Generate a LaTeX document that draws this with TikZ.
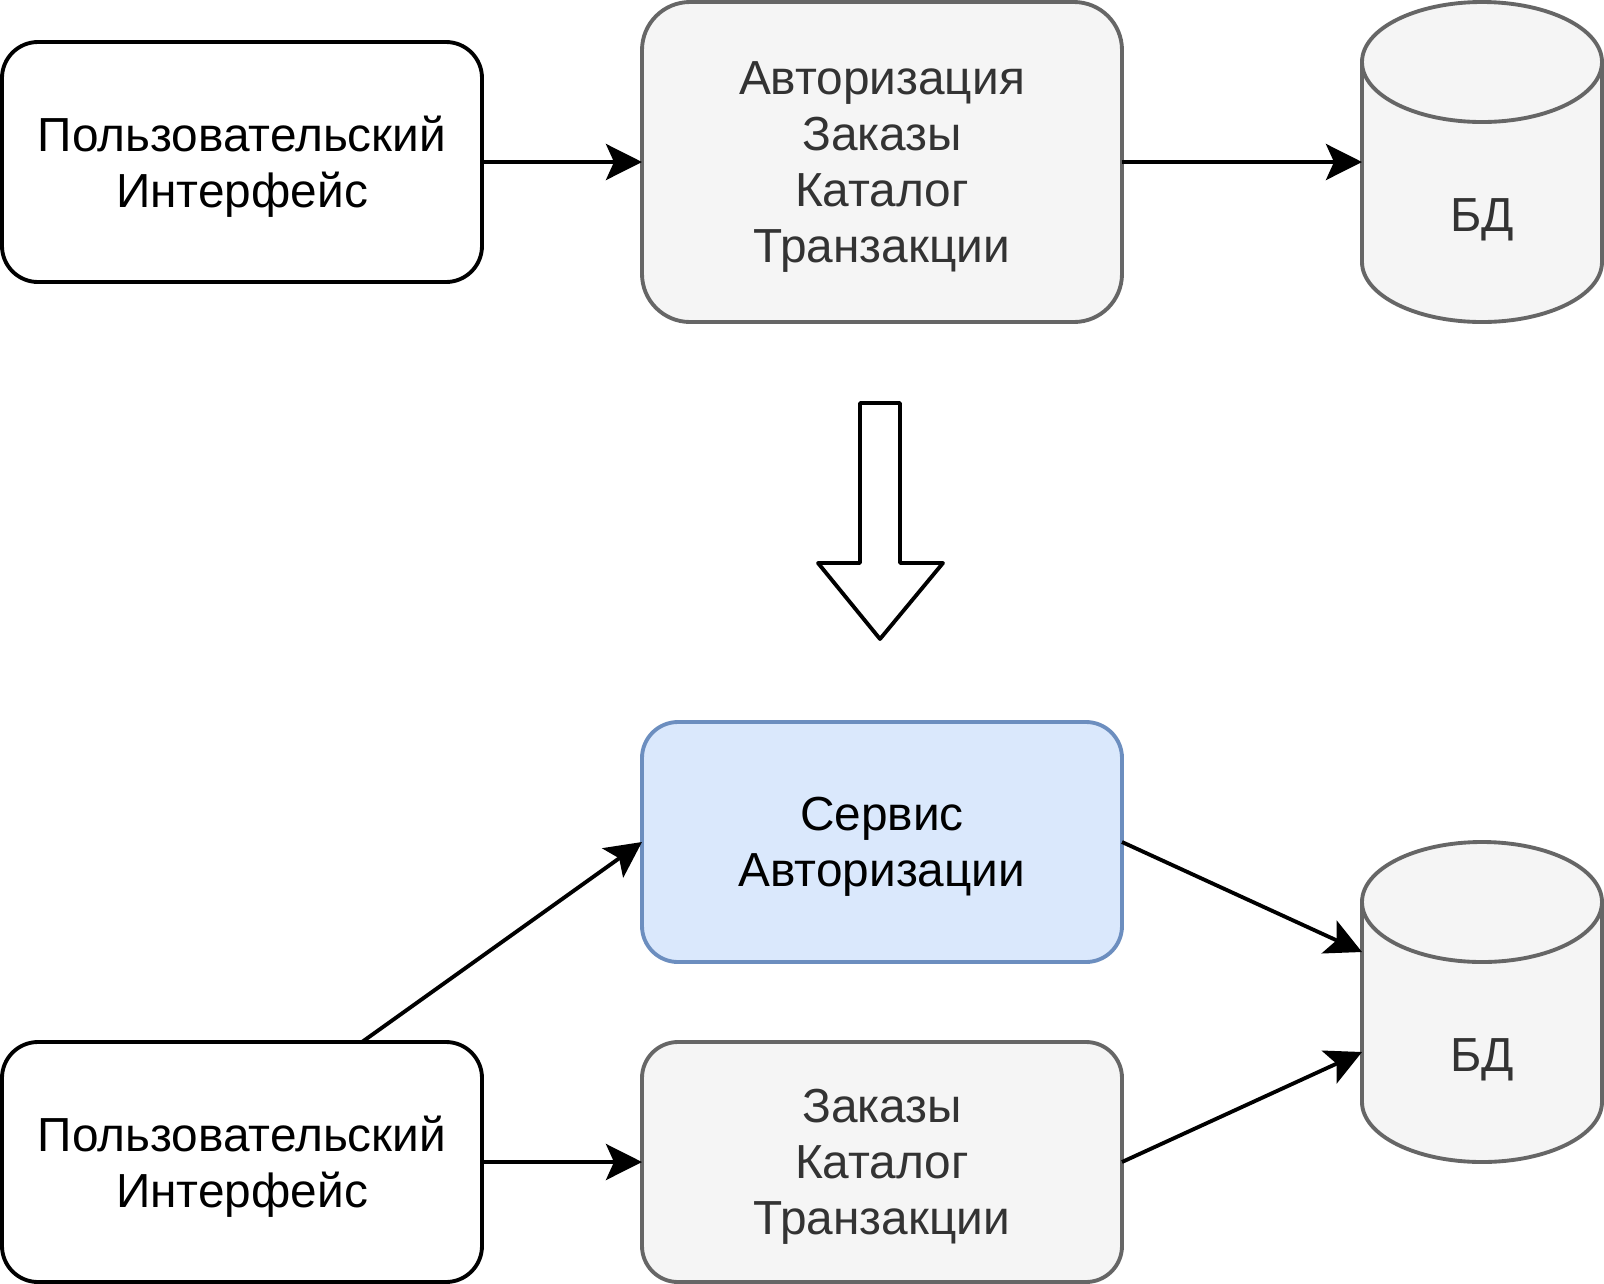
\documentclass[tikz,border=0pt]{standalone}
\usepackage{fontspec}
\setmainfont{Liberation Sans}
\usepackage{xcolor}
\usetikzlibrary{arrows.meta, positioning, calc}
\definecolor{boxgray}{HTML}{F5F5F5}
\definecolor{linegray}{HTML}{666666}
\definecolor{textgray}{HTML}{333333}
\definecolor{authblue}{HTML}{DAE8FC}
\definecolor{authline}{HTML}{6C8EBF}

\begin{document}
\begin{tikzpicture}[
        block/.style={draw, line width=1.1pt, rounded corners=0.36cm, minimum width=4.8cm, minimum height=2.4cm, align=center, inner sep=0pt, outer sep=0pt, text depth=-0.5pt, font=\fontsize{13.6}{16}\selectfont},
        uibox/.style={block, draw=black, fill=white},
        graybox/.style={block, draw=linegray, fill=boxgray, text=textgray},
        dbbox/.style={minimum width=2.4cm, minimum height=3.2cm, inner sep=0pt, outer sep=0pt},
        dbline/.style={draw=linegray, fill=boxgray, line width=1.1pt},
        dbtext/.style={text=textgray, font=\fontsize{13.6}{16}\selectfont},
        arrow/.style={-{Stealth[length=3.6mm, width=3.6mm, inset=0.8mm]}, line width=1.1pt}
    ]
        \useasboundingbox (0,0) rectangle (16.04,-12.84);

        % Before
        \node[uibox] (ui1) at (2.42, -1.62) {Пользовательский\\Интерфейс};
        \node[graybox, minimum height=3.2cm, rounded corners=0.48cm] (mono) at (8.82, -1.62) {Авторизация\\Заказы\\Каталог\\Транзакции};
        \node[dbbox] (db1) at (14.82, -1.62) {};

        % After
        \node[block, draw=authline, fill=authblue] (auth) at (8.82, -8.42) {Сервис\\Авторизации};
        \node[uibox] (ui2) at (2.42, -11.62) {Пользовательский\\Интерфейс};
        \node[graybox] (rest) at (8.82, -11.62) {Заказы\\Каталог\\Транзакции};
        \node[dbbox] (db2) at (14.82, -10.02) {};

        % Databases
        \foreach \d in {db1, db2} {
            \draw[dbline] ($(\d.north west)+(0,-0.6)$) -- ($(\d.south west)+(0,0.6)$)
                arc (180:360:1.2 and 0.6) -- ($(\d.north east)+(0,-0.6)$)
                arc (0:180:1.2 and 0.6) -- cycle;
            \draw[dbline, fill=none] ($(\d.north west)+(0,-0.6)$) arc (180:360:1.2 and 0.6);
            \node[dbtext] at ($(\d)+(0,-0.58)$) {БД};
        }

        % Split arrow
        \draw[line width=1.1pt, line join=round] (8.60, -4.03) -- (9.00, -4.03) -- (9.00, -5.63) -- (9.43, -5.63)
            -- (8.80, -6.39) -- (8.18, -5.63) -- (8.60, -5.63) -- cycle;

        \coordinate (uiout) at ($(ui2.north west)!0.75!(ui2.north east)$);
        \coordinate (dbin1) at ($(db2.west)+(0,0.5)$);
        \coordinate (dbin2) at ($(db2.west)+(0,-0.5)$);

        \draw[arrow] (ui1) -- (mono);
        \draw[arrow] (mono) -- (db1);
        \draw[arrow] (uiout) -- (auth.west);
        \draw[arrow] (ui2) -- (rest);
        \draw[arrow] (auth.east) -- (dbin1);
        \draw[arrow] (rest.east) -- (dbin2);
\end{tikzpicture}
\end{document}
